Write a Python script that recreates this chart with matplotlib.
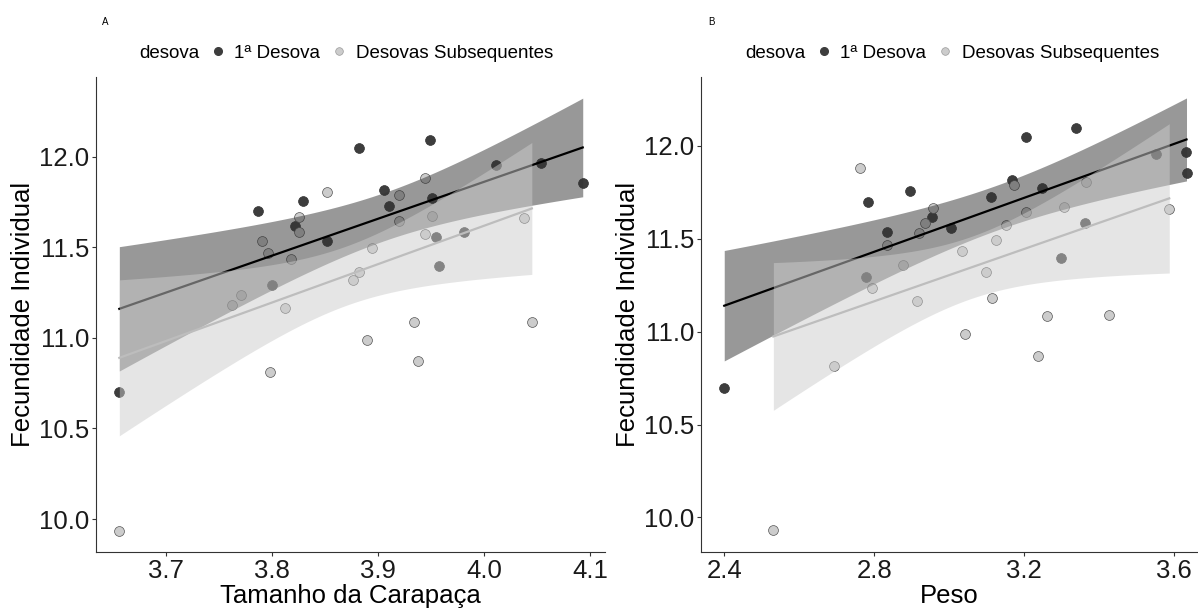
import math
import numpy as np
import matplotlib
matplotlib.use('Agg')
import matplotlib.pyplot as plt
from matplotlib.lines import Line2D

plt.rcParams['font.family'] = ['Liberation Sans', 'DejaVu Sans']

# 1ª Desova (fecundity, carapace size, weight)
prim_fec = [11.698, 11.755, 12.047, 12.095, 11.814, 11.726, 11.774, 11.955, 11.966,
            11.854, 11.620, 11.535, 11.294, 11.559, 11.585, 11.397, 10.699]
prim_carap = [3.787, 3.829, 3.882, 3.949, 3.906, 3.910, 3.951, 4.011, 4.054,
              4.093, 3.822, 3.852, 3.800, 3.955, 3.981, 3.957, 3.656]
prim_peso = [2.783, 2.895, 3.205, 3.337, 3.168, 3.111, 3.248, 3.551, 3.631,
             3.633, 2.955, 2.834, 2.778, 3.004, 3.362, 3.298, 2.400]

# Desovas Subsequentes
subs_fec = [11.806, 11.787, 11.881, 11.666, 11.663, 11.670, 11.587, 11.575, 11.532, 11.468,
            11.433, 11.494, 11.644, 11.237, 11.179, 11.164, 11.361, 11.319, 11.086, 11.088,
            10.990, 10.871, 10.813, 9.932]
subs_carap = [3.852, 3.920, 3.944, 3.825, 4.038, 3.951, 3.825, 3.944, 3.791, 3.796,
              3.818, 3.894, 3.920, 3.771, 3.762, 3.812, 3.882, 3.876, 3.934, 4.045,
              3.890, 3.938, 3.798, 3.656]
subs_peso = [3.364, 3.173, 2.763, 2.957, 3.587, 3.307, 2.935, 3.151, 2.920, 2.833,
             3.033, 3.126, 3.204, 2.793, 3.113, 2.913, 2.877, 3.098, 3.260, 3.426,
             3.042, 3.236, 2.693, 2.531]

group_labels = ['1ª Desova', 'Desovas Subsequentes']
ylabel = 'Fecundidade Individual'

W, H = 1198, 610


def t_quantile(p, df):
    # student t quantile by integrating the density (no scipy here)
    c = math.exp(math.lgamma((df + 1) / 2) - math.lgamma(df / 2)) / math.sqrt(df * math.pi)
    grid = np.linspace(0, 10, 20001)
    pdf = c * (1 + grid ** 2 / df) ** (-(df + 1) / 2)
    cdf = 0.5 + np.concatenate([[0], np.cumsum((pdf[1:] + pdf[:-1]) / 2 * np.diff(grid))])
    return np.interp(p, cdf, grid)


def lm_band(x, y, n=80):
    # same thing geom_smooth(method = "lm") does
    x = np.asarray(x)
    y = np.asarray(y)
    b, a = np.polyfit(x, y, 1)
    xs = np.linspace(x.min(), x.max(), n)
    fit = a + b * xs
    df = len(x) - 2
    s = np.sqrt(np.sum((y - (a + b * x)) ** 2) / df)
    se = s * np.sqrt(1 / len(x) + (xs - x.mean()) ** 2 / np.sum((x - x.mean()) ** 2))
    t = t_quantile(0.975, df)
    return xs, fit, fit - t * se, fit + t * se


def axes_px(left, right, top, bottom):
    return [left / W, 1 - bottom / H, (right - left) / W, (bottom - top) / H]


fig = plt.figure(figsize=(W / 100, H / 100), dpi=100)
axA = fig.add_axes(axes_px(96, 605, 77, 552))
axB = fig.add_axes(axes_px(701, 1197, 77, 552))

panels = [
    (axA, prim_carap, subs_carap, 'Tamanho da Carapaça', (3.634, 4.114), (9.818, 12.44),
     [3.7, 3.8, 3.9, 4.0, 4.1], 'A', 218),
    (axB, prim_peso, subs_peso, 'Peso', (2.338, 3.661), (9.814, 12.371),
     [2.4, 2.8, 3.2, 3.6], 'B', 824),
]

for ax, xp, xs_, xlabel, xlim, ylim, xticks, tag, dot_x in panels:
    ax.scatter(xp, prim_fec, s=50, c='#3d3d3d', edgecolors='#333333', linewidths=0.5, zorder=2)
    ax.scatter(xs_, subs_fec, s=50, c='#cccccc', edgecolors='#555555', linewidths=0.5, zorder=2)

    for gx, gy, fill, line in [(xp, prim_fec, '#333333', 'black'),
                               (xs_, subs_fec, '#cccccc', '#bdbdbd')]:
        bx, fit, lo, hi = lm_band(gx, gy)
        ax.fill_between(bx, lo, hi, color=fill, alpha=0.5, linewidth=0, zorder=3)
        ax.plot(bx, fit, color=line, linewidth=1.6, zorder=3)

    ax.set_xlim(*xlim)
    ax.set_ylim(*ylim)
    ax.set_xticks(xticks)
    ax.set_xticklabels([f'{v:.1f}' for v in xticks])
    ax.set_yticks([10.0, 10.5, 11.0, 11.5, 12.0])
    ax.set_yticklabels(['10.0', '10.5', '11.0', '11.5', '12.0'])
    for side in ['top', 'right']:
        ax.spines[side].set_visible(False)
    for side in ['left', 'bottom']:
        ax.spines[side].set_color('#333333')
        ax.spines[side].set_linewidth(0.8)
    ax.tick_params(length=3, width=0.8, color='#333333', labelsize=18.5,
                   labelcolor='#1a1a1a', pad=2)
    ax.set_xlabel(xlabel, fontsize=18.5, labelpad=1)
    ax.set_ylabel(ylabel, fontsize=18.5, labelpad=3)

    # legend: title on the left, keys in a row
    handles = [Line2D([], [], linestyle='none', marker='o', markersize=5.5,
                      markerfacecolor='#3d3d3d', markeredgecolor='#3d3d3d'),
               Line2D([], [], linestyle='none', marker='o', markersize=5.5,
                      markerfacecolor='#cccccc', markeredgecolor='#999999', markeredgewidth=0.5)]
    fig.legend(handles, group_labels, ncol=2, frameon=False, fontsize=13.5,
               loc='center left', bbox_to_anchor=((dot_x - 8) / W, 1 - 53 / H),
               borderpad=0, borderaxespad=0, handlelength=0.8, handletextpad=0.5,
               columnspacing=0.6)
    fig.text((dot_x - 18) / W, 1 - 53 / H, 'desova', fontsize=13.5, ha='right', va='center')
    fig.text((dot_x - 116) / W, 1 - 22 / H, tag, fontsize=7, ha='left', va='center')

fig.savefig('out.png', dpi=100)
